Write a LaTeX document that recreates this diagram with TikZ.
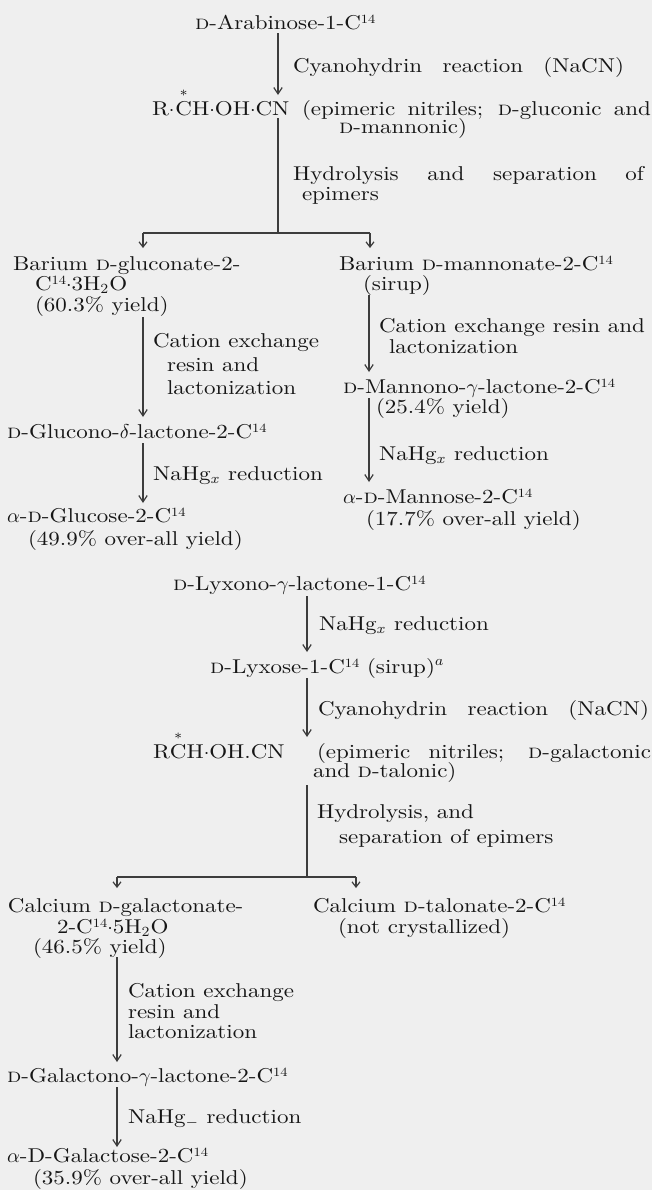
\documentclass[tikz,border=0pt]{standalone}
\usepackage{fontspec}
\setmainfont{lmroman10-regular}[Extension=.otf, FakeStretch=1.15, ItalicFont=lmroman10-italic, BoldFont=lmroman10-bold, SmallCapsFont=lmromancaps10-regular, SmallCapsFeatures={FakeStretch=1.15}]
\usetikzlibrary{arrows.meta,calc}
\definecolor{paper}{RGB}{239,239,239}
\definecolor{ink}{RGB}{22,22,22}
\definecolor{rulec}{RGB}{60,60,60}
\newcommand{\cft}{C\raisebox{0.3em}{\fontsize{6.3}{6}\selectfont 14}}
\newcommand{\starC}{{\stackrel{*}{\mbox{C}}}}
\begin{document}
\begin{tikzpicture}[x=0.5pt,y=-0.5pt,
  txt/.style={anchor=base west,inner sep=0pt,outer sep=0pt,text=ink,font=\fontsize{10}{10.25}\selectfont},
  ln/.style={draw=rulec,line width=0.6pt},
  arr/.style={ln,-{Straight Barb[length=3.2pt,width=4.2pt,line width=0.6pt]}},
  brr/.style={ln,-{Straight Barb[length=2.6pt,width=4pt,line width=0.6pt]}}]
\fill[paper] (0,0) rectangle (652,1190);
\useasboundingbox (0,0) rectangle (652,1190);
% ---------- top ----------
\node[txt] (arab) at (195,29) {\textsc{d}-Arabinose-1-\cft};
\node[txt] (cyan1) at (293,72) {\makebox[165.5pt][s]{Cyanohydrin reaction (NaCN)}};
\node[txt] (rch1) at (152,115) {R$\cdot$\kern0.5pt$\starC$H$\cdot$OH$\cdot$CN};
\node[txt] (epi1a) at (302,115) {\makebox[174.5pt][s]{(epimeric nitriles; \textsc{d}-gluconic and}};
\node[txt] (epi1b) at (339,133) {\textsc{d}-mannonic)};
\node[txt] (hyd1a) at (293,180) {\makebox[175.5pt][s]{Hydrolysis and separation of}};
\node[txt] (hyd1b) at (302,200) {epimers};
% ---------- left (gluconate) ----------
\node[txt] (bgl) at (13,270) {Barium \textsc{d}-gluconate-2-};
\node[txt] (bgl2) at (35,290) {\cft$\cdot$3H$_2$O};
\node[txt] (bgl3) at (35,311) {(60.3\% yield)};
\node[txt] (cat1a) at (153,347) {Cation exchange};
\node[txt] (cat1b) at (167,371) {resin and};
\node[txt] (cat1c) at (167,394) {lactonization};
\node[txt] (glc) at (7,438) {\textsc{d}-Glucono-$\delta$-lactone-2-\cft};
\node[txt] (nah1) at (153,480) {NaHg$_x$ reduction};
\node[txt] (aglu) at (7,522) {$\alpha$-\textsc{d}-Glucose-2-\cft};
\node[txt] (aglu2) at (28,545) {(49.9\% over-all yield)};
% ---------- right (mannonate) ----------
\node[txt] (bman) at (339,270) {Barium \textsc{d}-mannonate-2-\cft};
\node[txt] (bman2) at (363,290) {(sirup)};
\node[txt] (cat2a) at (379,332) {Cation exchange resin and};
\node[txt] (cat2b) at (389,353) {lactonization};
\node[txt] (mlac) at (343,393) {\textsc{d}-Mannono-$\gamma$-lactone-2-\cft};
\node[txt] (mlac2) at (376,413) {(25.4\% yield)};
\node[txt] (nah2) at (379,460) {NaHg$_x$ reduction};
\node[txt] (aman) at (343,503) {$\alpha$-\textsc{d}-Mannose-2-\cft};
\node[txt] (aman2) at (366,525) {(17.7\% over-all yield)};
% ---------- lyxose ----------
\node[txt] (lyxlac) at (173,590) {\textsc{d}-Lyxono-$\gamma$-lactone-1-\cft};
\node[txt] (nah3) at (319,630) {NaHg$_x$ reduction};
\node[txt] (lyx) at (210,673) {\textsc{d}-Lyxose-1-\cft{} (sirup)$^a$};
\node[txt] (cyan2) at (318,715) {\makebox[165.5pt][s]{Cyanohydrin reaction (NaCN)}};
\node[txt] (rch2) at (153,758) {R$\starC$H$\cdot$OH.CN};
\node[txt] (epi2a) at (317,758) {\makebox[167pt][s]{(epimeric nitriles; \textsc{d}-galactonic}};
\node[txt] (epi2b) at (313,777) {and \textsc{d}-talonic)};
\node[txt] (hyd2a) at (317,818) {Hydrolysis, and};
\node[txt] (hyd2b) at (339,843) {separation of epimers};
% ---------- calcium ----------
\node[txt] (cgal) at (8,912) {Calcium \textsc{d}-galactonate-};
\node[txt] (cgal2) at (57,933) {2-\cft$\cdot$5H$_2$O};
\node[txt] (cgal3) at (33,953) {(46.5\% yield)};
\node[txt] (ctal) at (313,912) {Calcium \textsc{d}-talonate-2-\cft};
\node[txt] (ctal2) at (338,933) {(not crystallized)};
\node[txt] (cat3a) at (128,997) {Cation exchange};
\node[txt] (cat3b) at (128,1018) {resin and};
\node[txt] (cat3c) at (128,1038) {lactonization};
\node[txt] (glac) at (7,1082) {\textsc{d}-Galactono-$\gamma$-lactone-2-\cft};
\node[txt] (nah4) at (128,1123) {NaHg$_-$ reduction};
\node[txt] (agal) at (7,1162) {$\alpha$-D-Galactose-2-\cft};
\node[txt] (agal2) at (33,1184) {(35.9\% over-all yield)};
% ---------- columns / junctions ----------
\coordinate (cA) at (278,0);
\coordinate (hA) at (278,233);
\coordinate (hL) at (143,233);
\coordinate (hR) at (370,233);
\coordinate (cL) at (143,0);
\coordinate (cR) at (369,0);
\coordinate (cM) at (307,0);
\coordinate (hB) at (307,877);
\coordinate (hBL) at (117,877);
\coordinate (hBR) at (356,877);
\coordinate (cG) at (117,0);
% ---------- connectors ----------
\draw[arr] ($(arab.base -| cA)+(0,4)$) -- ($(rch1.base -| cA)+(0,-20)$);
\draw[ln] ($(rch1.base -| cA)+(0,3)$) -- (hA);
\draw[ln] (hL) -- (hR);
\draw[brr] (hL) -- ($(bgl.base -| hL)+(0,-22)$);
\draw[brr] (hR) -- ($(bman.base -| hR)+(0,-22)$);
\draw[arr] ($(bgl3.base -| cL)+(0,6)$) -- ($(glc.base -| cL)+(0,-21)$);
\draw[arr] ($(glc.base -| cL)+(0,5)$) -- ($(aglu.base -| cL)+(0,-19)$);
\draw[arr] ($(bman2.base -| cR)+(0,5)$) -- ($(mlac.base -| cR)+(0,-21)$);
\draw[arr] ($(mlac.base -| cR)+(0,5)$) -- ($(aman.base -| cR)+(0,-21)$);
\draw[arr] ($(lyxlac.base -| cM)+(0,6)$) -- ($(lyx.base -| cM)+(0,-21)$);
\draw[arr] ($(lyx.base -| cM)+(0,5)$) -- ($(rch2.base -| cM)+(0,-21)$);
\draw[ln] ($(epi2b.base -| cM)+(0,8)$) -- (hB);
\draw[ln] (hBL) -- (hBR);
\draw[brr] (hBL) -- ($(cgal.base -| hBL)+(0,-24)$);
\draw[brr] (hBR) -- ($(ctal.base -| hBR)+(0,-24)$);
\draw[arr] ($(cgal3.base -| cG)+(0,4)$) -- ($(glac.base -| cG)+(0,-20)$);
\draw[arr] ($(glac.base -| cG)+(0,5)$) -- ($(agal.base -| cG)+(0,-15)$);
\end{tikzpicture}
\end{document}
